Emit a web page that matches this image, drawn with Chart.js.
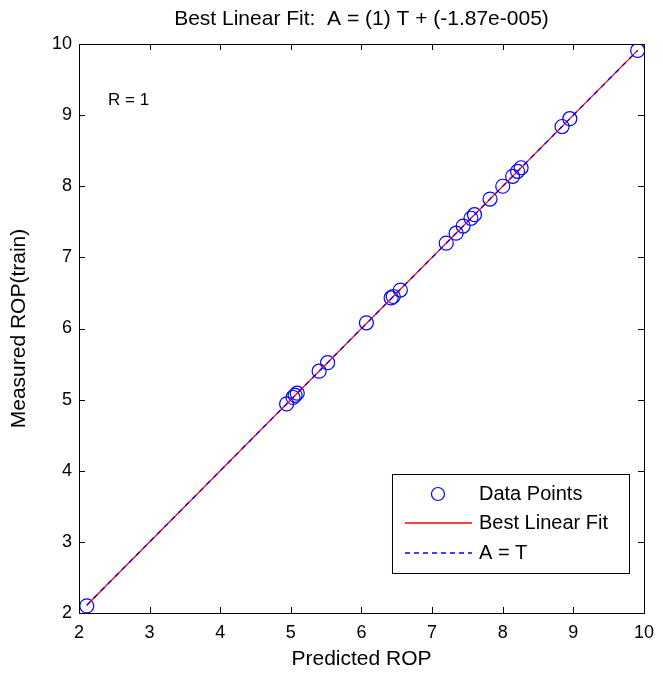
<!DOCTYPE html>
<html>
<head>
<meta charset="utf-8">
<script src="https://cdn.jsdelivr.net/npm/chart.js@4/dist/chart.umd.min.js"></script>
<style>
  html, body { margin: 0; padding: 0; background: #fff; }
  #wrap { width: 663px; height: 675px; }
</style>
</head>
<body>
<div id="wrap"><canvas id="fit" width="663" height="675"></canvas></div>
<script>
// Regression plot (postreg style): predicted vs measured ROP
const predicted = [2.11, 4.94, 5.03, 5.06, 5.09, 5.40, 5.52, 6.07, 6.42, 6.45, 6.55,
  7.20, 7.34, 7.44, 7.55, 7.60, 7.82, 8.00, 8.14, 8.21, 8.26, 8.84, 8.95, 9.91];
const measured = [2.10, 4.94, 5.03, 5.06, 5.09, 5.40, 5.52, 6.08, 6.43, 6.45, 6.54,
  7.20, 7.34, 7.44, 7.55, 7.60, 7.82, 8.00, 8.14, 8.21, 8.26, 8.84, 8.95, 9.91];
const fitT = [2.11, 9.91];
const fitA = [2.11, 9.91];
const xTicks = [2, 3, 4, 5, 6, 7, 8, 9, 10];
const yTicks = [2, 3, 4, 5, 6, 7, 8, 9, 10];

const FONT = "'Liberation Sans', Arial, sans-serif";
const BLUE = "#0000ff";
const RED = "#ff0000";
const TITLE = "Best Linear Fit:  A = (1) T + (-1.87e-005)";

const pts = predicted.map((t, i) => ({ x: t, y: measured[i] }));
const fitLine = fitT.map((t, i) => ({ x: t, y: fitA[i] }));

// matlab-ish box + inward ticks on all four sides, title over the axes
const boxTicks = {
  id: "boxTicks",
  afterDatasetsDraw(chart) {
    const { ctx, chartArea: a, scales } = chart;
    ctx.save();
    ctx.strokeStyle = "#000";
    ctx.lineWidth = 1;
    ctx.beginPath();
    scales.x.ticks.forEach((t) => {
      const px = Math.round(scales.x.getPixelForValue(t.value)) + 0.5;
      ctx.moveTo(px, a.bottom); ctx.lineTo(px, a.bottom - 6);
      ctx.moveTo(px, a.top); ctx.lineTo(px, a.top + 6);
    });
    scales.y.ticks.forEach((t) => {
      const py = Math.round(scales.y.getPixelForValue(t.value)) + 0.5;
      ctx.moveTo(a.left, py); ctx.lineTo(a.left + 6, py);
      ctx.moveTo(a.right, py); ctx.lineTo(a.right - 6, py);
    });
    ctx.stroke();
    ctx.strokeRect(Math.round(a.left) + 0.5, Math.round(a.top) + 0.5,
      Math.round(a.right - a.left), Math.round(a.bottom - a.top));

    ctx.fillStyle = "#000";
    ctx.textBaseline = "middle";
    ctx.textAlign = "center";
    ctx.font = "21px " + FONT;
    ctx.fillText(TITLE, (a.left + a.right) / 2, a.top - 25);

    // R value
    ctx.font = "17px " + FONT;
    ctx.textAlign = "left";
    ctx.fillText("R = 1", a.left + 29, a.top + 56);
    ctx.restore();
  }
};

// legend box in the lower right
const legendStyle = [
  { color: BLUE, marker: true },
  { color: RED, dash: [] },
  { color: BLUE, dash: [5, 4] }
];
const boxLegend = {
  id: "boxLegend",
  afterDraw(chart) {
    const { ctx, chartArea: a } = chart;
    const w = 237, h = 99;
    const x0 = a.right - 15 - w, y0 = a.bottom - 40 - h;
    ctx.save();
    ctx.fillStyle = "#fff";
    ctx.fillRect(x0, y0, w, h);
    ctx.strokeStyle = "#000";
    ctx.lineWidth = 1;
    ctx.strokeRect(x0 + 0.5, y0 + 0.5, w, h);
    ctx.font = "20px " + FONT;
    ctx.textBaseline = "middle";
    const rows = [20, 49, 79];
    chart.data.datasets.forEach((ds, i) => {
      const st = legendStyle[i];
      const y = y0 + rows[i];
      ctx.strokeStyle = st.color;
      ctx.lineWidth = st.marker ? 1.2 : 1.4;
      ctx.beginPath();
      if (st.marker) {
        ctx.arc(x0 + 46, y, 6.5, 0, Math.PI * 2);
      } else {
        ctx.setLineDash(st.dash);
        ctx.moveTo(x0 + 13, y); ctx.lineTo(x0 + 80, y);
      }
      ctx.stroke();
      ctx.setLineDash([]);
      ctx.fillStyle = "#000";
      ctx.fillText(ds.label, x0 + 87, y);
    });
    ctx.restore();
  }
};

new Chart(document.getElementById("fit"), {
  type: "scatter",
  data: {
    datasets: [
      {
        label: "Data Points",
        data: pts,
        showLine: false,
        borderColor: BLUE,
        backgroundColor: "rgba(0,0,0,0)",
        pointStyle: "circle",
        pointRadius: 7,
        pointBorderWidth: 1.2,
        order: 3
      },
      {
        label: "Best Linear Fit",
        data: fitLine,
        showLine: true,
        borderColor: RED,
        borderWidth: 1.3,
        pointRadius: 0,
        order: 2
      },
      {
        label: "A = T",
        data: fitLine,
        showLine: true,
        borderColor: BLUE,
        borderWidth: 1.3,
        borderDash: [5, 5],
        pointRadius: 0,
        order: 1
      }
    ]
  },
  options: {
    responsive: false,
    animation: false,
    layout: { padding: { top: 44, right: 15, left: 0, bottom: 0 } },
    plugins: {
      legend: { display: false },
      tooltip: { enabled: false },
      title: { display: false }
    },
    scales: {
      x: {
        type: "linear",
        min: 2, max: 10,
        afterBuildTicks: (s) => { s.ticks = xTicks.map((v) => ({ value: v })); },
        afterFit: (s) => { s.height = 62; },
        grid: { display: false, drawTicks: false },
        border: { display: false },
        ticks: { color: "#000", font: { family: FONT, size: 18 }, padding: 9, maxRotation: 0 },
        title: {
          display: true, text: "Predicted ROP", color: "#000",
          font: { family: FONT, size: 21 }, padding: { top: 0, bottom: 3 }
        }
      },
      y: {
        type: "linear",
        min: 2, max: 10,
        afterBuildTicks: (s) => { s.ticks = yTicks.map((v) => ({ value: v })); },
        afterFit: (s) => { s.width = 79; },
        grid: { display: false, drawTicks: false },
        border: { display: false },
        ticks: { color: "#000", font: { family: FONT, size: 18 }, padding: 7 },
        title: {
          display: true, text: "Measured ROP(train)", color: "#000",
          font: { family: FONT, size: 21 }, padding: { top: 7, bottom: 0 }
        }
      }
    }
  },
  plugins: [boxTicks, boxLegend]
});
</script>
</body>
</html>
